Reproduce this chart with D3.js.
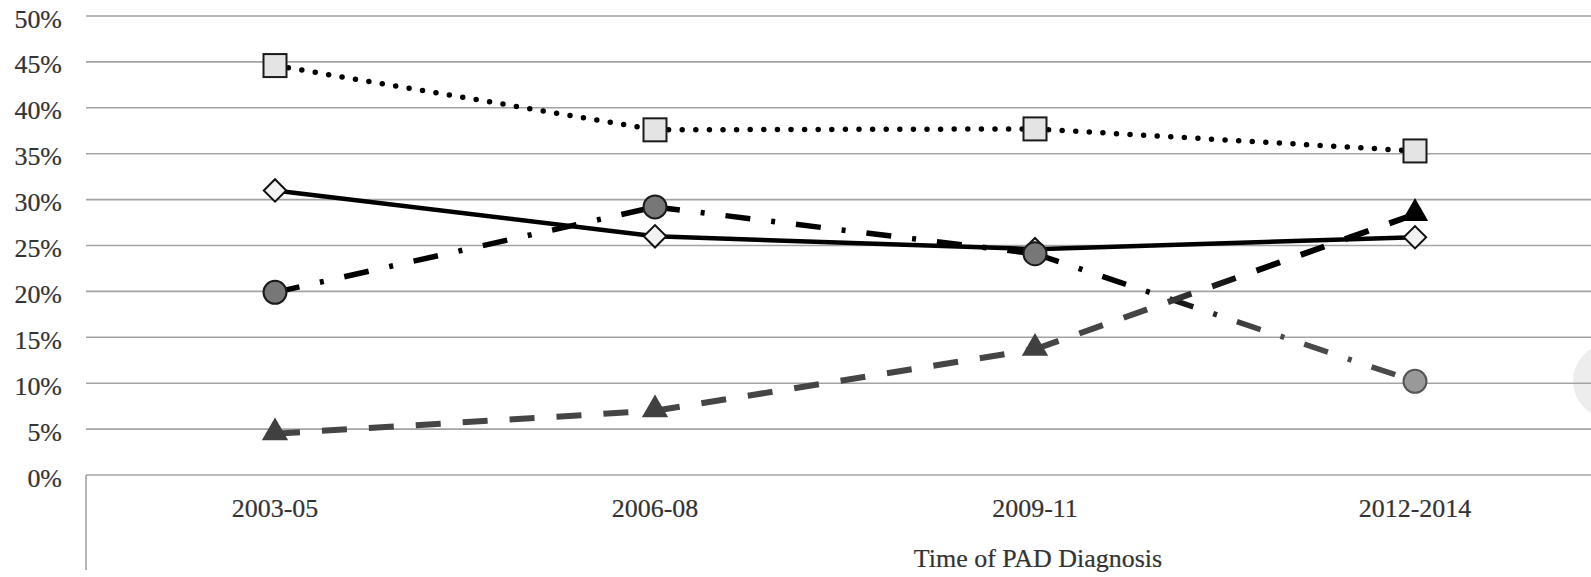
<!DOCTYPE html>
<html>
<head>
<meta charset="utf-8">
<script src="https://cdn.jsdelivr.net/npm/d3@7"></script>
<style>
  html, body { margin: 0; padding: 0; background: #fff; }
  svg text {
    font-family: "Liberation Serif", "Times New Roman", serif;
    fill: #333;
    stroke: #333;
    stroke-width: 0.2px;
  }
</style>
</head>
<body>
<div id="chart"></div>
<script>
const periods = ["2003-05", "2006-08", "2009-11", "2012-2014"];
const yTicks = [0, 5, 10, 15, 20, 25, 30, 35, 40, 45, 50];

// percentages
const squareSeries = [44.6, 37.6, 37.7, 35.3];
const diamondSeries = [31.0, 26.0, 24.6, 25.9];
const circleSeries = [19.9, 29.2, 24.1, 10.2];
const triangleSeries = [4.5, 7.0, 13.7, 28.4];

const width = 1591, height = 577;

const svg = d3.select("#chart")
  .append("svg")
  .attr("width", width)
  .attr("height", height);

const x = d3.scalePoint().domain(periods).range([85, 1605]).padding(0.5);
const y = d3.scaleLinear().domain([0, 50]).range([475, 16]);

// faint blob at the right edge of the scan
svg.append("circle")
  .attr("cx", 1611).attr("cy", 381).attr("r", 38)
  .attr("fill", "#ededed");

// gridlines
svg.append("g")
  .selectAll("line")
  .data(yTicks)
  .join("line")
  .attr("x1", 86).attr("x2", width)
  .attr("y1", d => y(d)).attr("y2", d => y(d))
  .attr("stroke", "#a3a3a3")
  .attr("stroke-width", 1.6);

// left separator under the category axis
svg.append("line")
  .attr("x1", 86).attr("x2", 86)
  .attr("y1", y(0)).attr("y2", 570)
  .attr("stroke", "#a3a3a3")
  .attr("stroke-width", 1.6);

// y tick labels
svg.append("g")
  .selectAll("text")
  .data(yTicks)
  .join("text")
  .attr("text-anchor", "end")
  .attr("transform", d => `translate(62,${y(d) + 11.5}) scale(1.06,1)`)
  .style("font-size", "24.5px")
  .text(d => d + "%");

// category labels
svg.append("g")
  .selectAll("text")
  .data(periods)
  .join("text")
  .attr("text-anchor", "middle")
  .attr("transform", d => `translate(${x(d)},517) scale(1.06,1)`)
  .style("font-size", "24.5px")
  .text(d => d);

svg.append("text")
  .attr("text-anchor", "middle")
  .attr("transform", "translate(1038,567) scale(1.06,1)")
  .style("font-size", "24.5px")
  .text("Time of PAD Diagnosis");

const defs = svg.append("defs");

function segmentGradient(id, p0, p1, c0, c1) {
  const g = defs.append("linearGradient")
    .attr("id", id)
    .attr("gradientUnits", "userSpaceOnUse")
    .attr("x1", p0[0]).attr("y1", p0[1])
    .attr("x2", p1[0]).attr("y2", p1[1]);
  g.append("stop").attr("offset", "0.3").attr("stop-color", c0);
  g.append("stop").attr("offset", "0.6").attr("stop-color", c1);
  return `url(#${id})`;
}

function drawSegments(values, opts) {
  const pts = values.map((v, i) => [x(periods[i]), y(v)]);
  const g = svg.append("g");
  for (let i = 0; i < pts.length - 1; i++) {
    const col = opts.segColor ? opts.segColor(i, pts[i], pts[i + 1]) : opts.color;
    g.append("path")
      .attr("d", d3.line()([pts[i], pts[i + 1]]))
      .attr("fill", "none")
      .attr("stroke", col)
      .attr("stroke-width", opts.width)
      .attr("stroke-dasharray", opts.dash || null)
      .attr("stroke-linecap", opts.cap || "butt");
  }
  return pts;
}

// solid line, diamonds
const diamondPts = drawSegments(diamondSeries, { color: "#000", width: 4.5 });

// dash-dot line, circles
const circlePts = drawSegments(circleSeries, {
  width: 5.5,
  dash: "25 21 4 21",
  segColor: (i, a, b) => i === 2 ? segmentGradient("gc", a, b, "#000", "#4a4a4a") : "#000"
});

// dashed line, triangles
const trianglePts = drawSegments(triangleSeries, {
  width: 6,
  dash: "25 22",
  segColor: (i, a, b) => i === 2 ? segmentGradient("gt", a, b, "#454545", "#000") : "#454545"
});

// dotted line, squares
const squarePts = drawSegments(squareSeries, {
  color: "#000", width: 5.5, dash: "0 13.6", cap: "round"
});

// markers
const sym = (type, size) => d3.symbol().type(type).size(size)();

svg.append("g").selectAll("path")
  .data(diamondPts)
  .join("path")
  .attr("transform", d => `translate(${d[0]},${d[1]}) rotate(45)`)
  .attr("d", sym(d3.symbolSquare, 250))
  .attr("fill", "#f2f2f2")
  .attr("stroke", "#111")
  .attr("stroke-width", 2);

svg.append("g").selectAll("circle")
  .data(circlePts)
  .join("circle")
  .attr("cx", d => d[0]).attr("cy", d => d[1])
  .attr("r", 11.5)
  .attr("fill", (d, i) => i === 3 ? "#999" : "#777")
  .attr("stroke", (d, i) => i === 3 ? "#555" : "#1a1a1a")
  .attr("stroke-width", 2);

svg.append("g").selectAll("path")
  .data(trianglePts)
  .join("path")
  .attr("transform", d => `translate(${d[0]},${d[1] - 1})`)
  .attr("d", sym(d3.symbolTriangle, 300))
  .attr("fill", (d, i) => i === 3 ? "#000" : "#404040");

svg.append("g").selectAll("rect")
  .data(squarePts)
  .join("rect")
  .attr("x", d => d[0] - 11.5).attr("y", d => d[1] - 11.5)
  .attr("width", 23).attr("height", 23)
  .attr("fill", "#e4e4e4")
  .attr("stroke", "#1a1a1a")
  .attr("stroke-width", 2);
</script>
</body>
</html>
